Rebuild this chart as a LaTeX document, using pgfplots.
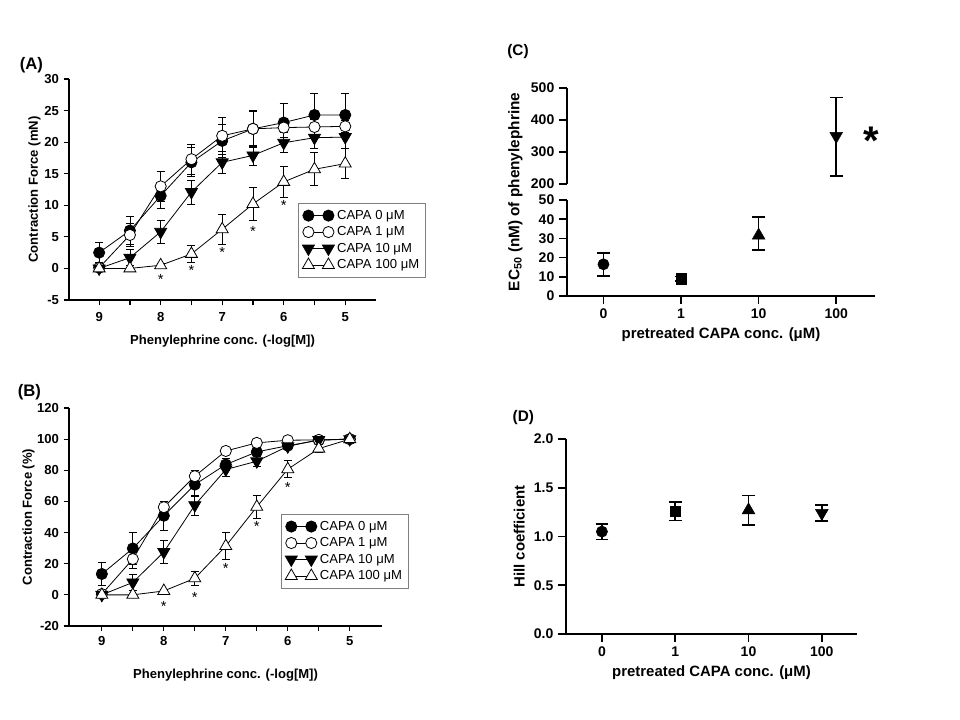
\documentclass[border=0pt]{standalone}
\usepackage{pgfplots}
\pgfplotsset{compat=1.18}
\usepackage{fontspec}
\setmainfont{Liberation Sans}
\begin{document}
\begin{tikzpicture}
\path[use as bounding box] (0pt,0pt) rectangle (720pt,540pt);
\pgfplotsset{
  ab/.style={
    scale only axis, anchor=south west,
    axis lines*=left, axis line style={line width=0.9pt,-},
    tick align=outside, major tick length=4pt, minor tick length=4pt,
    every tick/.style={black, line width=0.9pt},
    x dir=reverse,
    xtick={5,6,7,8,9}, minor xtick={5.5,6.5,7.5,8.5},
    ticklabel style={font=\bfseries\fontsize{9.8}{11}\selectfont},
    /pgf/number format/assume math mode=true,
    label style={font=\bfseries\fontsize{9.8}{11}\selectfont},
    xlabel={Phenylephrine conc. (-log[M])},
    legend cell align=left,
    legend image code/.code={\draw[#1] plot coordinates {(0pt,0pt) (15pt,0pt)};},
    legend style={draw=gray, line width=0.6pt, font=\fontsize{9.8}{12.5}\selectfont, anchor=north west, inner sep=3pt},
  },
  eb/.style={error bars/y dir=both, error bars/y explicit,
    error bars/error mark options={mark size=3pt, line width=0.6pt, black, rotate=90},
    error bars/error bar style={line width=0.6pt, black}},
  s0/.style={black, line width=0.6pt, mark=*, mark size=4.2pt, mark options={fill=black}, eb},
  s1/.style={black, line width=0.6pt, mark=*, mark size=4.2pt, mark options={fill=white}, eb},
  s10/.style={black, line width=0.6pt, mark=triangle*, mark size=5.2pt, mark options={fill=black, rotate=180}, eb},
  s100/.style={black, line width=0.6pt, mark=triangle*, mark size=5.2pt, mark options={fill=white}, eb},
  star/.style={draw=none, mark=none, forget plot, nodes near coords={*},
    every node near coord/.append style={anchor=center, font=\fontsize{11}{12}\selectfont}},
  cd/.style={
    scale only axis, anchor=south west,
    axis line style={line width=1.2pt,-},
    tick align=outside, major tick length=6pt,
    every tick/.style={black, line width=1.2pt},
    ticklabel style={font=\bfseries\fontsize{10.5}{12}\selectfont},
    /pgf/number format/assume math mode=true,
    label style={font=\bfseries\fontsize{11.2}{13}\selectfont},
    xmin=-0.47, xmax=3.5,
  },
  ebc/.style={only marks, black, error bars/y dir=both, error bars/y explicit,
    error bars/error mark options={mark size=4.8pt, line width=1.2pt, black, rotate=90},
    error bars/error bar style={line width=1.2pt, black}},
}
% ---------- Panel A ----------
\begin{axis}[ab, at={(51.75pt,315pt)}, width=230.25pt, height=165.75pt,
  xmin=4.5, xmax=9.49, ymin=-5, ymax=30, ytick={-5,0,5,10,15,20,25,30},
  xticklabel style={yshift=-2pt}, xlabel style={yshift=-3pt},
  ylabel={Contraction Force (mN)}, ylabel style={yshift=-4pt},
  legend style={at={(0.746,0.439)}}]
\addplot[s0] coordinates {(9,2.5) +- (0,1.6) (8.5,6.0) +- (0,2.2) (8,11.5) +- (0,2.0) (7.5,16.8) +- (0,2.3) (7,20.2) +- (0,2.6) (6.5,22.1) +- (0,2.8) (6,23.1) +- (0,3.1) (5.5,24.3) +- (0,3.4) (5,24.3) +- (0,3.4)};
\addlegendentry{CAPA 0 μM}
\addplot[s1] coordinates {(9,0.1) +- (0,0.5) (8.5,5.3) +- (0,1.8) (8,13.0) +- (0,2.4) (7.5,17.3) +- (0,2.4) (7,21.0) +- (0,2.9) (6.5,22.1) +- (0,3.0) (6,22.3) +- (0,1.5) (5.5,22.4) +- (0,1.2) (5,22.5) +- (0,1.0)};
\addlegendentry{CAPA 1 μM}
\addplot[s10] coordinates {(9,0) +- (0,0.5) (8.5,1.7) +- (0,1.3) (8,5.8) +- (0,1.8) (7.5,12.1) +- (0,1.9) (7,16.8) +- (0,1.8) (6.5,17.9) +- (0,1.6) (6,19.9) +- (0,1.6) (5.5,20.7) +- (0,1.7) (5,20.8) +- (0,1.8)};
\addlegendentry{CAPA 10 μM}
\addplot[s100] coordinates {(9,0) +- (0,0) (8.5,0) +- (0,0) (8,0.5) +- (0,0.3) (7.5,2.3) +- (0,1.3) (7,6.2) +- (0,2.4) (6.5,10.2) +- (0,2.6) (6,13.7) +- (0,2.5) (5.5,15.7) +- (0,2.6) (5,16.6) +- (0,2.4)};
\addlegendentry{CAPA 100 μM}
\addplot[star] coordinates {(8,-1.8) (7.5,-0.4) (7,2.5) (6.5,5.8) (6,9.9)};
\end{axis}
% ---------- Panel B ----------
\begin{axis}[ab, at={(51.75pt,70.5pt)}, width=234.75pt, height=163.5pt,
  xmin=4.48, xmax=9.53, ymin=-20, ymax=120, ytick={-20,0,20,40,60,80,100,120},
  xlabel style={yshift=-11pt},
  ylabel={Contraction Force (\%)}, ylabel style={yshift=-5pt},
  legend style={at={(0.677,0.514)}}]
\addplot[s0] coordinates {(9,13.4) +- (0,7.5) (8.5,29.8) +- (0,10.5) (8,50.8) +- (0,9.5) (7.5,70.8) +- (0,7.5) (7,83.7) +- (0,4) (6.5,91.8) +- (0,3) (6,95.8) +- (0,2) (5.5,99.3) +- (0,1) (5,100) +- (0,0.5)};
\addlegendentry{CAPA 0 μM}
\addplot[s1] coordinates {(9,0.5) +- (0,1) (8.5,23) +- (0,6) (8,56.3) +- (0,4) (7.5,76.2) +- (0,4) (7,92.4) +- (0,1.5) (6.5,97.6) +- (0,1) (6,99.3) +- (0,0.5) (5.5,99.5) +- (0,0.5) (5,100) +- (0,0.3)};
\addlegendentry{CAPA 1 μM}
\addplot[s10] coordinates {(9,0) +- (0,1) (8.5,8) +- (0,5) (8,27.5) +- (0,7.5) (7.5,57.6) +- (0,6.5) (7,80.5) +- (0,4.5) (6.5,85.8) +- (0,3) (6,95.4) +- (0,1.5) (5.5,99.5) +- (0,1) (5,100) +- (0,0.5)};
\addlegendentry{CAPA 10 μM}
\addplot[s100] coordinates {(9,0) +- (0,0) (8.5,0) +- (0,0) (8,2.5) +- (0,0.8) (7.5,10.6) +- (0,4.5) (7,31.3) +- (0,8.5) (6.5,56.5) +- (0,7.5) (6,80.7) +- (0,5.5) (5.5,93.9) +- (0,2.5) (5,100) +- (0,0.5)};
\addlegendentry{CAPA 100 μM}
\addplot[star] coordinates {(8,-7.5) (7.5,-1.7) (7,16.7) (6.5,43.9) (6,68.7)};
\end{axis}
% ---------- Panel C (upper) ----------
\begin{axis}[cd, at={(425.25pt,402pt)}, width=231pt, height=72pt,
  ymin=200, ymax=500, ytick={200,300,400,500},
  axis x line=none, axis y line*=left, clip=false]
\addplot[ebc, mark=triangle*, mark size=5.5pt, mark options={rotate=180, fill=black}] coordinates {(3,350) += (0,120) -= (0,125)};
\addplot[draw=none, mark=none, nodes near coords={\textbf{*}},
  every node near coord/.append style={anchor=center, font=\bfseries\fontsize{30}{32}\selectfont}] coordinates {(3.45,335)};
\end{axis}
% ---------- Panel C (lower) ----------
\begin{axis}[cd, at={(425.25pt,318pt)}, width=231pt, height=72pt,
  ymin=0, ymax=50, ytick={0,10,20,30,40,50},
  axis lines*=left,
  xtick={0,1,2,3}, xticklabels={0,1,10,100},
  xlabel={pretreated CAPA conc. (μM)}]
\addplot[ebc, mark=*, mark size=4.2pt] coordinates {(0,16.5) +- (0,6)};
\addplot[ebc, mark=square*, mark size=3.8pt] coordinates {(1,9) +- (0,1.2)};
\addplot[ebc, mark=triangle*, mark size=5.5pt] coordinates {(2,31.5) += (0,9.5) -= (0,7.5)};
\end{axis}
\node[rotate=90, font=\bfseries\fontsize{11.5}{13}\selectfont] at (386.5pt,396pt) {EC\textsubscript{50} (nM) of phenylephrine};
% ---------- Panel D ----------
\begin{axis}[cd, at={(424.5pt,64.5pt)}, width=218.25pt, height=146.25pt,
  ymin=0, ymax=2, ytick={0,0.5,1,1.5,2},
  yticklabel style={/pgf/number format/.cd, fixed, fixed zerofill, precision=1},
  axis lines*=left, xmin=-0.49, xmax=3.48,
  xtick={0,1,2,3}, xticklabels={0,1,10,100},
  xlabel={pretreated CAPA conc. (μM)}, ylabel={Hill coefficient}]
\addplot[ebc, mark=*, mark size=4.2pt] coordinates {(0,1.05) +- (0,0.08)};
\addplot[ebc, mark=square*, mark size=3.8pt] coordinates {(1,1.26) +- (0,0.095)};
\addplot[ebc, mark=triangle*, mark size=5.5pt] coordinates {(2,1.27) +- (0,0.15)};
\addplot[ebc, mark=triangle*, mark size=5.5pt, mark options={rotate=180, fill=black}] coordinates {(3,1.24) +- (0,0.08)};
\end{axis}
% ---------- Panel labels ----------
\node[font=\bfseries\fontsize{12.5}{14}\selectfont] at (23.5pt,491pt) {(A)};
\node[font=\bfseries\fontsize{12.5}{14}\selectfont] at (22pt,246pt) {(B)};
\node[font=\bfseries\fontsize{11.5}{14}\selectfont] at (388.5pt,501pt) {(C)};
\node[font=\bfseries\fontsize{11.5}{14}\selectfont] at (392.5pt,226.5pt) {(D)};
\end{tikzpicture}
\end{document}
